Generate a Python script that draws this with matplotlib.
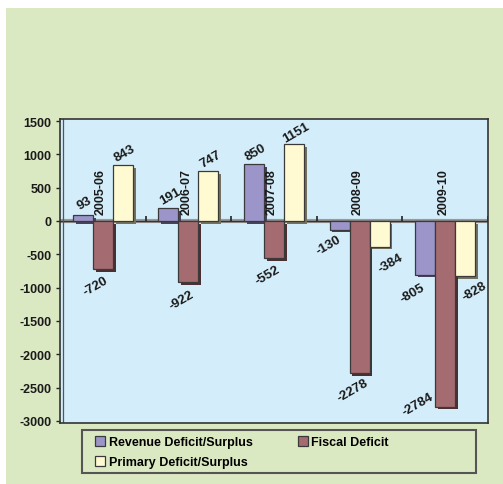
import matplotlib
matplotlib.use("Agg")
import matplotlib.pyplot as plt
import matplotlib.patheffects as pe
from matplotlib.patches import Rectangle
import numpy as np

plt.rcParams['font.family'] = ['Liberation Sans', 'DejaVu Sans']
plt.rcParams['font.weight'] = 'bold'

# Deficit indicators by year
years = ["2005-06", "2006-07", "2007-08", "2008-09", "2009-10"]
revenue = [93, 191, 850, -130, -805]
fiscal = [-720, -922, -552, -2278, -2784]
primary = [843, 747, 1151, -384, -828]

series_names = ["Revenue Deficit/Surplus", "Fiscal Deficit", "Primary Deficit/Surplus"]
colors = ["#9b95c9", "#a46b70", "#fffad2"]

y_ticks = [1500, 1000, 500, 0, -500, -1000, -1500, -2000, -2500, -3000]

# label nudges (pixels) for a few crowded value labels
label_nudge = {(0, 3): (-11, -15), (2, 3): (11, -16), (0, 4): (-13, -18),
               (1, 4): (-27, 3), (2, 4): (9, -15)}

fig = plt.figure(figsize=(5.03, 4.85), dpi=100, facecolor="white")
fig.patches.append(Rectangle((6 / 503, 0), 1 - 6 / 503, 1 - 9 / 485,
                             transform=fig.transFigure, facecolor="#dbe9c2",
                             edgecolor="none", zorder=-5))
# legend box
fig.patches.append(Rectangle((82 / 503, 1 - 474 / 485), 394 / 503, 43 / 485,
                             transform=fig.transFigure, facecolor="#dbe9c2",
                             edgecolor="#555555", linewidth=1.5, zorder=-4))

ax = fig.add_axes([60 / 503, 1 - 424 / 485, 428 / 503, 304 / 485])
ax.set_facecolor("#d3eefa")
ax.set_xlim(-0.5, 4.5)
ax.set_ylim(-3030, 1530)

x = np.arange(len(years))
w = 0.234
data = [revenue, fiscal, primary]
for i, (vals, col) in enumerate(zip(data, colors)):
    bars = ax.bar(x + (i - 1) * w, vals, width=w, color=col, edgecolor="#3a3a3a",
                  linewidth=0.9, zorder=3, label=series_names[i])
    for b in bars:
        b.set_path_effects([pe.SimplePatchShadow(offset=(2, -2), rho=0.45, alpha=1.0),
                            pe.Normal()])
    for j, v in enumerate(vals):
        if (i, j) in label_nudge:
            dx, dy = label_nudge[(i, j)]
        elif v >= 0:
            dx, dy = 2, 12
        else:
            dx, dy = -7, -17
        ax.annotate(f"{v}", (x[j] + (i - 1) * w, v), xytext=(dx, dy),
                    textcoords="offset pixels", ha="center", va="center",
                    rotation=30, fontsize=9.5, fontweight="bold", color="#1a1a1a",
                    zorder=5)

# year labels standing above the zero line
for j, yr in enumerate(years):
    ax.annotate(yr, (x[j], 0), xytext=(-2, 7), textcoords="offset pixels",
                rotation=90, ha="center", va="bottom", fontsize=9,
                fontweight="bold", color="#1a1a1a", zorder=5)

# zero line with floor edge and category separators
ax.axhline(0, color="#9a9a9a", linewidth=3.0, zorder=1)
ax.axhline(0, color="#333333", linewidth=1.0, zorder=1)
ax.vlines(np.arange(0.5, 5.0, 1.0), 0, 80, color="#222222", linewidth=1.2, zorder=2)

# left wall double edge
ax.axvline(-0.5 + 3 / 85.6, color="#555555", linewidth=0.9, zorder=2)

ax.set_xticks([])
ax.set_yticks(y_ticks)
ax.set_yticklabels([str(t) for t in y_ticks], fontsize=9, fontweight="bold",
                   color="#1a1a1a")
ax.tick_params(axis="y", direction="out", length=3, width=1, pad=3, color="#222222")
for s in ax.spines.values():
    s.set_color("#333333")
    s.set_linewidth(1.2)

handles, labels = ax.get_legend_handles_labels()
order = [0, 2, 1]
leg = fig.legend([handles[k] for k in order], [labels[k] for k in order],
                 ncol=2, loc="upper left", bbox_to_anchor=(95 / 503, 1 - 437 / 485),
                 frameon=False, handlelength=0.8, handleheight=0.8,
                 handletextpad=0.3, borderaxespad=0, borderpad=0,
                 labelspacing=0.65, columnspacing=3.6,
                 prop={"weight": "bold", "size": 9})
for h in leg.legend_handles:
    h.set_path_effects([])

fig.savefig("out.png", dpi=100, facecolor=fig.get_facecolor())
